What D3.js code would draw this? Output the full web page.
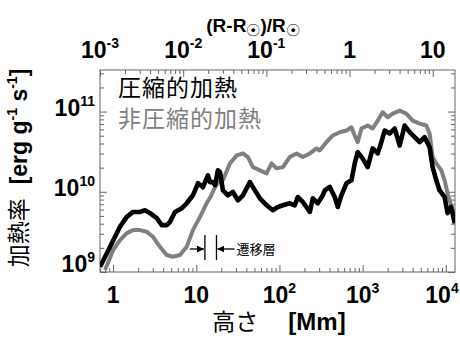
<!DOCTYPE html>
<html lang="ja">
<head>
<meta charset="UTF-8">
<title>加熱率</title>
<script src="https://d3js.org/d3.v7.min.js"></script>
<style>
  body { margin: 0; background: #fff; }
  svg { display: block; }
  .num { font-family: 'Liberation Sans', Arial, sans-serif; font-weight: bold; fill: #000; }
  .jp { font-family: 'Noto Sans CJK JP', sans-serif; }
  .tick line { stroke: #666; }
</style>
</head>
<body>
<svg id="chart" width="460" height="338"></svg>
<script>
// 圧縮的加熱 (black): height [Mm], heating rate [erg g^-1 s^-1]
const compHeight = [0.698, 0.92, 1.21, 1.46, 1.74, 2.11, 2.42, 2.78, 3.35, 3.84, 4.41, 4.83, 5.55, 6.68, 7.67, 9.12,
  10.5, 12.0, 13.8, 14.6, 15.8, 16.8, 18.2, 19.3, 20.9, 24.0, 27.6, 31.7, 36.4, 44.1, 50.7, 58.2, 70.0, 83.4, 95.7,
  110, 133, 153, 166, 191, 232, 252, 289, 332, 351, 403, 462, 502, 556, 640, 734, 804, 873, 1000, 1150, 1320, 1520,
  1680, 1840, 2110, 2430, 2790, 3200, 3680, 4220, 4850, 5560, 6390, 6940, 7690, 8420, 9680, 10500, 11600, 12800];
const compRate = [1.16e9, 2.06e9, 3.66e9, 4.87e9, 5.61e9, 5.61e9, 5.89e9, 5.41e9, 4.69e9, 3.84e9, 3.84e9, 4.22e9, 5.61e9, 6.23e9, 7.19e9, 9.05e9,
  1.28e10, 1.14e10, 1.60e10, 1.32e10, 1.32e10, 1.21e10, 1.85e10, 1.76e10, 1.04e10, 9.05e9, 9.95e9, 7.83e9, 9.05e9, 1.32e10, 1.04e10, 8.29e9, 6.79e9, 5.89e9, 6.47e9,
  6.79e9, 7.19e9, 6.79e9, 8.61e9, 7.47e9, 5.61e9, 8.29e9, 7.19e9, 9.05e9, 1.04e10, 1.15e10, 8.61e9, 6.47e9, 9.05e9, 1.28e10, 1.39e10, 2.26e10, 3.12e10, 2.61e10, 2.03e10, 3.47e10, 3.01e10,
  4.16e10, 5.81e10, 5.33e10, 6.15e10, 3.78e10, 6.70e10, 5.53e10, 4.80e10, 4.16e10, 4.80e10, 3.60e10, 2.03e10, 1.39e10, 1.04e10, 8.61e9, 5.41e9, 6.47e9, 4.06e9];

// 非圧縮的加熱 (gray)
const incompHeight = [0.80, 1.0, 1.21, 1.46, 1.74, 2.11, 2.54, 3.02, 3.66, 4.41, 5.25, 6.37, 7.67, 9.12, 11.1, 13.3,
  15.0, 16.5, 18.2, 20.9, 25.4, 30.6, 36.4, 41.8, 48.0, 58.2, 70.0, 80.4, 92.3, 110, 133, 160, 191, 232, 279, 305,
  368, 437, 531, 640, 734, 804, 873, 968, 1150, 1320, 1520, 1740, 2000, 2300, 2790, 3350, 3990, 4850, 5830, 6390,
  6940, 7690, 8830, 9680, 10500, 12100, 13100];
const incompRate = [1.06e9, 1.87e9, 2.50e9, 3.05e9, 3.33e9, 3.33e9, 3.17e9, 2.75e9, 2.06e9, 1.63e9, 1.55e9, 1.63e9, 2.06e9, 3.33e9, 4.87e9, 7.19e9,
  8.8e9, 1.1e10, 1.3e10, 1.39e10, 2.26e10, 2.84e10, 3.01e10, 2.71e10, 2.03e10, 1.85e10, 1.70e10, 2.26e10, 1.96e10, 2.03e10, 2.71e10, 3.01e10, 2.71e10, 3.01e10, 3.47e10, 3.28e10,
  4.16e10, 5.04e10, 5.53e10, 5.81e10, 6.38e10, 5.04e10, 4.16e10, 6.15e10, 6.70e10, 6.15e10, 7.73e10, 9.80e10, 8.49e10, 9.44e10, 1.03e11, 9.44e10, 7.73e10, 7.09e10, 6.70e10, 5.33e10,
  2.71e10, 2.26e10, 1.85e10, 1.39e10, 9.58e9, 5.89e9, 4.06e9];

const xTicks = [1, 10, 100, 1000, 10000];
const yTicks = [1e9, 1e10, 1e11];
const topTicks = [1e-3, 1e-2, 1e-1, 1, 10];
const legendLabels = ["圧縮的加熱", "非圧縮的加熱"];
const transitionLayer = [12.7, 17.5];   // Mm
const solarRadius = 696;                // Mm

const svg = d3.select("#chart");
const plotLeft = 100, plotRight = 455, plotTop = 70, plotBottom = 272;

const x = d3.scaleLog().domain([0.696, 12900]).range([plotLeft, plotRight]);
const y = d3.scaleLog().domain([1e9, 3.3e11]).range([plotBottom, plotTop]);
const xTop = d3.scaleLog().domain(x.domain().map(d => d / solarRadius)).range([plotLeft, plotRight]);

function minors(scale) {
  const [a, b] = scale.domain();
  const out = [];
  for (let e = Math.floor(Math.log10(a)); e <= Math.ceil(Math.log10(b)); e++) {
    for (let m = 2; m <= 9; m++) {
      const v = m * Math.pow(10, e);
      if (v >= a && v <= b) out.push(v);
    }
  }
  return out;
}

function tickAxis(axisFn, scale, values, size, transform) {
  svg.append("g")
    .attr("transform", transform)
    .call(axisFn(scale).tickValues(values).tickSizeInner(size).tickSizeOuter(0).tickFormat(""))
    .call(g => g.select(".domain").remove());
}

// ticks pointing inward on all four sides
tickAxis(d3.axisBottom, x, xTicks, -7, `translate(0,${plotBottom})`);
tickAxis(d3.axisBottom, x, minors(x), -4, `translate(0,${plotBottom})`);
tickAxis(d3.axisTop, xTop, topTicks, -7, `translate(0,${plotTop})`);
tickAxis(d3.axisTop, xTop, minors(xTop), -4, `translate(0,${plotTop})`);
tickAxis(d3.axisLeft, y, yTicks, -7, `translate(${plotLeft},0)`);
tickAxis(d3.axisLeft, y, minors(y), -4, `translate(${plotLeft},0)`);
tickAxis(d3.axisRight, y, yTicks, -7, `translate(${plotRight},0)`);
tickAxis(d3.axisRight, y, minors(y), -4, `translate(${plotRight},0)`);

svg.append("rect")
  .attr("x", plotLeft).attr("y", plotTop)
  .attr("width", plotRight - plotLeft).attr("height", plotBottom - plotTop)
  .attr("fill", "none").attr("stroke", "#666").attr("stroke-width", 1);

// curves
svg.append("clipPath").attr("id", "plot")
  .append("rect").attr("x", plotLeft).attr("y", plotTop)
  .attr("width", plotRight - plotLeft).attr("height", plotBottom - plotTop);

const line = d3.line().x(d => x(d[0])).y(d => y(d[1]));

svg.append("path")
  .datum(d3.zip(incompHeight, incompRate))
  .attr("clip-path", "url(#plot)")
  .attr("d", line)
  .attr("fill", "none").attr("stroke", "#808080").attr("stroke-width", 4)
  .attr("stroke-linejoin", "round");

svg.append("path")
  .datum(d3.zip(compHeight, compRate))
  .attr("clip-path", "url(#plot)")
  .attr("d", line)
  .attr("fill", "none").attr("stroke", "#000").attr("stroke-width", 4.6)
  .attr("stroke-linejoin", "round");

// power-of-ten labels
function powLabel(t, v) {
  const e = Math.round(Math.log10(v));
  if (e === 0) { t.text("1"); return; }
  if (e === 1) { t.text("10"); return; }
  t.append("tspan").text("10");
  t.append("tspan").attr("font-size", 14).attr("dy", -10).text(String(e));
}

xTicks.forEach(v => {
  // keep the last label inside the window
  const cx = Math.min(x(v), 442);
  const t = svg.append("text").attr("class", "num").attr("font-size", 23)
    .attr("x", cx).attr("y", 303).attr("text-anchor", "middle");
  powLabel(t, v);
});

topTicks.forEach(v => {
  const t = svg.append("text").attr("class", "num").attr("font-size", 23)
    .attr("x", xTop(v)).attr("y", 58).attr("text-anchor", "middle");
  powLabel(t, v);
});

yTicks.forEach(v => {
  const t = svg.append("text").attr("class", "num").attr("font-size", 23)
    .attr("x", 95).attr("y", Math.min(y(v) + 4, 272)).attr("text-anchor", "end");
  powLabel(t, v);
});

// top title (R-R☉)/R☉
const tt = svg.append("text").attr("class", "num").attr("font-size", 19)
  .attr("x", 253).attr("y", 32).attr("text-anchor", "middle");
tt.append("tspan").text("(R-R");
tt.append("tspan").attr("font-size", 14).attr("dy", 3).attr("font-weight", "normal").text("☉");
tt.append("tspan").attr("dy", -3).text(")/R");
tt.append("tspan").attr("font-size", 14).attr("dy", 3).attr("font-weight", "normal").text("☉");

// x title
const xt = svg.append("text").attr("x", 279).attr("y", 330).attr("text-anchor", "middle");
xt.append("tspan").attr("class", "jp").attr("font-size", 23).text("高さ");
xt.append("tspan").attr("class", "num").attr("font-size", 24).attr("dx", 30).text("[Mm]");

// y title
const yt = svg.append("text").attr("transform", "translate(27,168) rotate(-90)").attr("text-anchor", "middle");
yt.append("tspan").attr("class", "jp").attr("font-size", 23).text("加熱率");
yt.append("tspan").attr("class", "num").attr("font-size", 23).attr("dx", 14).text("[erg g");
yt.append("tspan").attr("class", "num").attr("font-size", 14).attr("dy", -10).text("-1");
yt.append("tspan").attr("class", "num").attr("font-size", 23).attr("dy", 10).text(" s");
yt.append("tspan").attr("class", "num").attr("font-size", 14).attr("dy", -10).text("-1");
yt.append("tspan").attr("class", "num").attr("font-size", 23).attr("dy", 10).text("]");

// legend
const legendColors = ["#000", "#808080"];
legendLabels.forEach((s, i) => {
  svg.append("text").attr("class", "jp")
    .attr("x", 118).attr("y", 96 + i * 31)
    .attr("font-size", 23).attr("letter-spacing", 1)
    .attr("fill", legendColors[i]).text(s);
});

// transition region marker
svg.append("defs").append("marker")
  .attr("id", "head").attr("viewBox", "0 0 10 10")
  .attr("refX", 10).attr("refY", 5)
  .attr("markerWidth", 7).attr("markerHeight", 7)
  .attr("markerUnits", "userSpaceOnUse")
  .attr("orient", "auto")
  .append("path").attr("d", "M0,0L10,5L0,10Z").attr("fill", "#000");

const [xa, xb] = transitionLayer.map(x);
transitionLayer.forEach(h => {
  svg.append("line").attr("x1", x(h)).attr("x2", x(h)).attr("y1", 235).attr("y2", 260)
    .attr("stroke", "#000").attr("stroke-width", 1.3);
});
svg.append("line").attr("x1", xa - 15).attr("x2", xa - 1).attr("y1", 249).attr("y2", 249)
  .attr("stroke", "#000").attr("stroke-width", 1.3).attr("marker-end", "url(#head)");
svg.append("line").attr("x1", xb + 18).attr("x2", xb + 1).attr("y1", 249).attr("y2", 249)
  .attr("stroke", "#000").attr("stroke-width", 1.3).attr("marker-end", "url(#head)");
svg.append("text").attr("class", "jp").attr("font-size", 13)
  .attr("x", xb + 20).attr("y", 254).text("遷移層");
</script>
</body>
</html>
